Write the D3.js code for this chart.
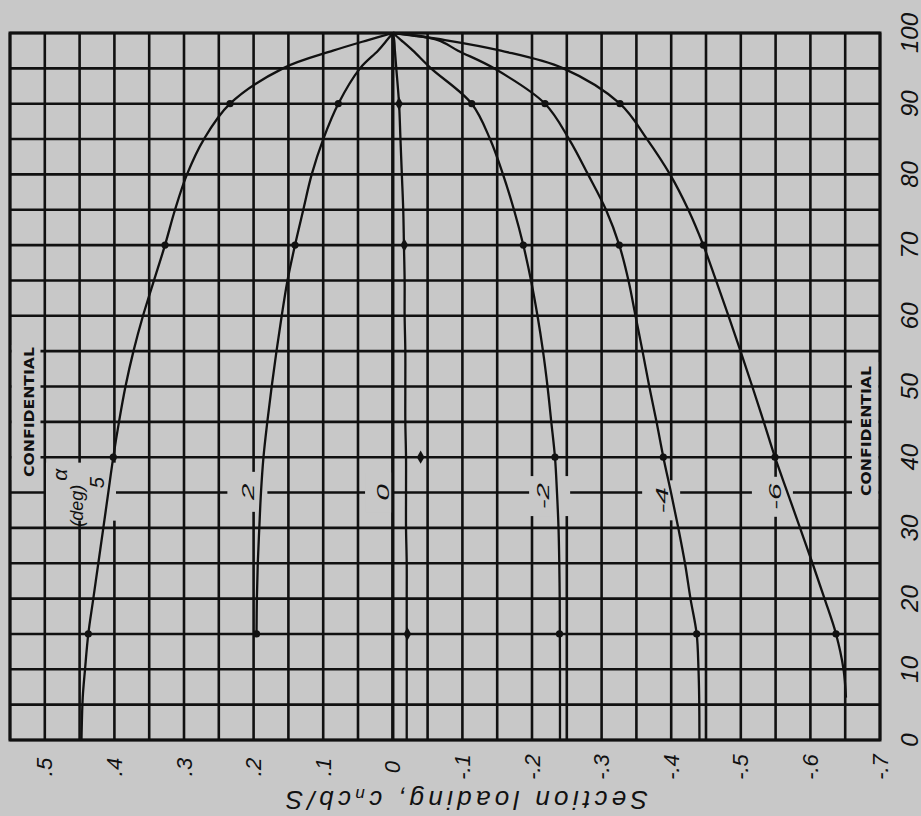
<!DOCTYPE html>
<html><head><meta charset="utf-8">
<script src="https://cdn.jsdelivr.net/npm/d3@7"></script>
<style>html,body{margin:0;padding:0;background:#c8c8c8;} svg{display:block}</style>
</head><body>
<svg id="c" width="921" height="816"></svg>
<script>
// ---- data ----
const spanStations = [100,99,97.5,95,90,85,80,75,70,65,60,55,50,45,40,35,30,25,20,15,10,6,0];
const alphaLabels = ["5","2","0","-2","-4","-6"];
const loadA5  = [0,0.0356,0.0859,0.1578,0.2339,0.2713,0.2957,0.3129,0.3273,0.3431,0.3589,0.3726,0.3841,0.3934,0.4016,0.4088,0.4159,0.4231,0.4303,0.4375,0.4422,0.4455,0.4473];
const loadA2  = [0,0.0083,0.0213,0.0471,0.0783,0.0999,0.1165,0.1286,0.1405,0.1513,0.1596,0.1671,0.1740,0.1803,0.1858,0.1894,0.1918,0.1940,0.1953,0.1958,null,null,null];
const loadA0  = [0,-0.002,-0.003,-0.005,-0.009,-0.011,-0.013,-0.015,-0.016,-0.017,-0.017,-0.018,-0.018,-0.018,-0.019,-0.019,-0.019,-0.020,-0.020,-0.020,-0.020,-0.020,-0.020];
const loadAm2 = [0,-0.0118,-0.0290,-0.0549,-0.1134,-0.1397,-0.1583,-0.1741,-0.1875,-0.1986,-0.2079,-0.2158,-0.2223,-0.2277,-0.2330,-0.2359,-0.2381,-0.2392,-0.2398,-0.2400,-0.2402,-0.2402,-0.2402];
const loadAm4 = [0,-0.0649,-0.0937,-0.1454,-0.2187,-0.2532,-0.2805,-0.3063,-0.3254,-0.3386,-0.3487,-0.3588,-0.3685,-0.3789,-0.3887,-0.3997,-0.4102,-0.4198,-0.4277,-0.4366,-0.4392,-0.4402,-0.4406];
const loadAm6 = [0,-0.0750,-0.1552,-0.2450,-0.3264,-0.3652,-0.3983,-0.4246,-0.4461,-0.4644,-0.4823,-0.4996,-0.5165,-0.5330,-0.5491,-0.5671,-0.5851,-0.6030,-0.6203,-0.6368,-0.6476,-0.6511,null];

const markerStations = [90,70,40,15];
const markA5  = [0.2339,0.3273,0.4016,0.4375];
const markA2  = [0.0783,0.1405,null,0.1958];
const markA0  = [-0.009,-0.0165,-0.040,-0.021];
const markAm2 = [-0.1134,-0.1875,-0.2330,-0.2395];
const markAm4 = [-0.2187,-0.3254,-0.3887,-0.4366];
const markAm6 = [-0.3264,-0.4461,-0.5491,-0.6368];

// curve-label anchors (loading value / span where each alpha label sits)
const labelSpan = [36.4,35.1,35.0,34.5,33.9,34.4];
const labelLoad = [0.425,0.2075,0.014,-0.216,-0.387,-0.549];

const xTickValues = [0.5,0.4,0.3,0.2,0.1,0,-0.1,-0.2,-0.3,-0.4,-0.5,-0.6,-0.7];
const xTickLabels = [".5",".4",".3",".2",".1","0","-.1","-.2","-.3","-.4","-.5","-.6","-.7"];
const yTickValues = [0,10,20,30,40,50,60,70,80,90,100];
const yTickLabels = ["0","10","20","30","40","50","60","70","80","90","100"];
const xTitle = "Section loading, ";

// ---- drawing ----
const svg = d3.select("#c");
const paper = "#c8c8c8", ink = "#111111";
svg.append("rect").attr("width",921).attr("height",816).attr("fill",paper);

const x = d3.scaleLinear().domain([0.55,-0.70]).range([10,880]);
const y = d3.scaleLinear().domain([0,100]).range([740,33]);

const grid = svg.append("g").attr("stroke",ink).attr("stroke-width",2.6);
const xGrid = d3.range(0,26).map(i => 0.55 - i*0.05);
const yGrid = d3.range(0,21).map(i => i*5);
grid.selectAll("line.v").data(xGrid).join("line")
  .attr("x1",d=>x(d)).attr("x2",d=>x(d)).attr("y1",y(0)).attr("y2",y(100));
grid.selectAll("line.h").data(yGrid).join("line")
  .attr("x1",x(0.55)).attr("x2",x(-0.70)).attr("y1",d=>y(d)).attr("y2",d=>y(d));

// paper patches behind labels (gaps in grid), offsets in px from each label
const patches = svg.append("g").attr("fill",paper);
const patchOff = [null,[-21,19],[-18,9],[-14,27],[-20,18],[-23,18]];
labelLoad.forEach((v,i)=>{
  if(!patchOff[i]) return;
  const cx = x(v), cy = y(labelSpan[i]);
  patches.append("rect").attr("x",cx+patchOff[i][0]).attr("y",cy-20)
    .attr("width",patchOff[i][1]-patchOff[i][0]).attr("height",40);
});
// alpha (deg) block patch
patches.append("rect").attr("x",x(0.55)+36).attr("y",y(labelSpan[0])-20).attr("width",70).attr("height",58);
// CONFIDENTIAL patches
patches.append("rect").attr("x",x(0.55)+1.5).attr("y",345).attr("width",29).attr("height",135);
patches.append("rect").attr("x",852).attr("y",362).attr("width",26.5).attr("height",137);

// border + zero line
svg.append("rect").attr("x",x(0.55)).attr("y",y(100)).attr("width",x(-0.7)-x(0.55)).attr("height",y(0)-y(100))
  .attr("fill","none").attr("stroke",ink).attr("stroke-width",3);
svg.append("line").attr("x1",x(0)).attr("x2",x(0)).attr("y1",y(0)).attr("y2",y(100)).attr("stroke",ink).attr("stroke-width",3.2);

// curves
const series = [loadA5,loadA2,loadA0,loadAm2,loadAm4,loadAm6];
const marks  = [markA5,markA2,markA0,markAm2,markAm4,markAm6];
const line = d3.line().x(d=>x(d[1])).y(d=>y(d[0])).curve(d3.curveCatmullRom.alpha(0.5));
series.forEach(s=>{
  const pts = spanStations.map((p,i)=>[p,s[i]]).filter(d=>d[1]!==null);
  svg.append("path").attr("d",line(pts)).attr("fill","none").attr("stroke",ink).attr("stroke-width",2.3);
});
marks.forEach((m,k)=>{
  markerStations.forEach((p,i)=>{
    if(m[i]===null) return;
    if(alphaLabels[k]==="0"){
      svg.append("path").attr("d",d3.symbol(d3.symbolDiamond,50)())
        .attr("transform",`translate(${x(m[i])},${y(p)})`).attr("fill",ink);
    } else {
      svg.append("circle").attr("cx",x(m[i])).attr("cy",y(p)).attr("r",3.6).attr("fill",ink);
    }
  });
});

// curve labels (rotated like the rest of the sheet; wide lettering)
const font = "'Liberation Sans', Arial, sans-serif";
alphaLabels.forEach((t,i)=>{
  const wide = i===0 ? 1 : 1.75;
  svg.append("text").attr("transform",`translate(${x(labelLoad[i])},${y(labelSpan[i])}) rotate(-90) scale(${wide},1)`)
    .attr("text-anchor","middle").attr("dominant-baseline","central")
    .attr("font-family",font).attr("font-style","italic").attr("font-size",i===0?20:17).attr("fill",ink).text(t);
});
svg.append("text").attr("transform",`translate(${x(labelLoad[0])-38},${y(labelSpan[0])-8}) rotate(-90)`)
  .attr("text-anchor","middle").attr("dominant-baseline","central")
  .attr("font-family",font).attr("font-style","italic").attr("font-size",21).attr("fill",ink).text("α");
svg.append("text").attr("transform",`translate(${x(labelLoad[0])-20},${y(labelSpan[0])+23}) rotate(-90)`)
  .attr("text-anchor","middle").attr("dominant-baseline","central")
  .attr("font-family",font).attr("font-style","italic").attr("font-size",18).attr("fill",ink).text("(deg)");

// CONFIDENTIAL stamps
[[29,412],[866,431]].forEach(([cx,cy])=>{
  svg.append("text").attr("transform",`translate(${cx},${cy}) rotate(-90)`)
    .attr("text-anchor","middle").attr("dominant-baseline","central")
    .attr("font-family","'DejaVu Sans', sans-serif").attr("font-weight","bold").attr("font-size",14)
    .attr("textLength",130).attr("lengthAdjust","spacingAndGlyphs").attr("fill",ink).text("CONFIDENTIAL");
});

// bottom tick labels
xTickValues.forEach((v,i)=>{
  svg.append("text").attr("transform",`translate(${x(v)},767) rotate(-90)`)
    .attr("text-anchor","middle").attr("dominant-baseline","central")
    .attr("font-family",font).attr("font-style","italic").attr("font-size",22).attr("fill",ink).text(xTickLabels[i]);
});
// right tick labels
yTickValues.forEach((v,i)=>{
  svg.append("text").attr("transform",`translate(909,${y(v)}) rotate(-90)`)
    .attr("text-anchor","middle").attr("dominant-baseline","central")
    .attr("font-family",font).attr("font-style","italic").attr("font-size",24).attr("fill",ink).text(yTickLabels[i]);
});
// axis title (upside down)
const tt = svg.append("text").attr("transform","translate(467,800) rotate(180)")
  .attr("text-anchor","middle").attr("dominant-baseline","central")
  .attr("font-family",font).attr("font-style","italic").attr("font-size",26).attr("fill",ink)
  .attr("textLength",362).attr("lengthAdjust","spacing");
tt.append("tspan").text(xTitle + "c");
tt.append("tspan").attr("font-size",17).attr("dy",5).text("n");
tt.append("tspan").attr("dy",-5).text("cb/S");
</script>
</body></html>
